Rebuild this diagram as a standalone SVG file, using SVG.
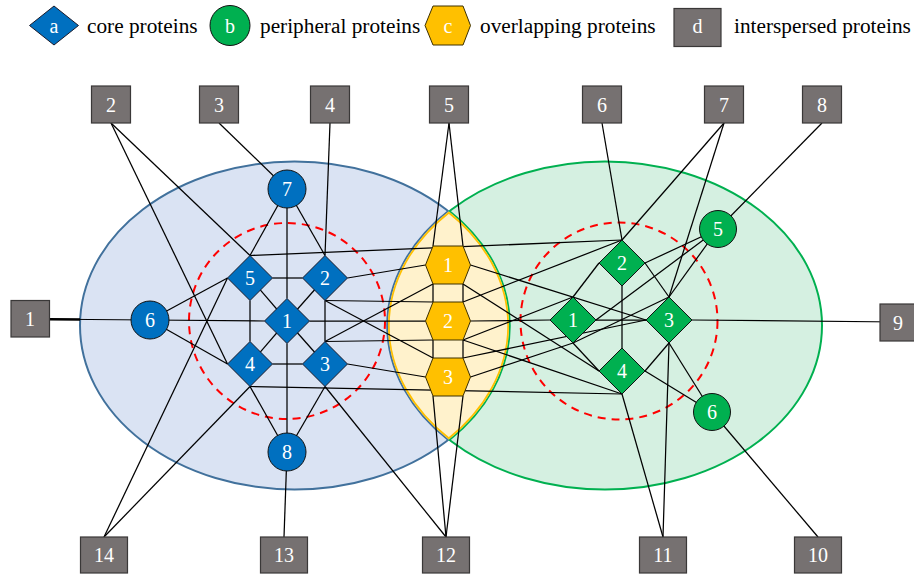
<svg xmlns="http://www.w3.org/2000/svg" width="914" height="577" viewBox="0 0 914 577">
<defs>
<style>
.lbl{font-family:"Liberation Serif","Times New Roman",serif;font-size:20px;fill:#fff;text-anchor:middle}
.leg{font-family:"Liberation Serif","Times New Roman",serif;font-size:21.3px;fill:#000}
.sq{fill:#767171;stroke:#3a3838;stroke-width:1.2}
.core{fill:#0070C0;stroke:#1a1a2a;stroke-width:1}
.peri{fill:#00B050;stroke:#111;stroke-width:1}
.ovl{fill:#FFC000;stroke:#3d3000;stroke-width:1}
.e line{stroke:#000;stroke-width:1.25}
.ring{fill:none;stroke:#FF0000;stroke-width:2;stroke-dasharray:8 6}
</style>
<clipPath id="lensclip"><path d="M448.85 211.6 A214.5 164 0 0 1 448.85 439.4 A217 164 0 0 1 448.85 211.6 Z"/></clipPath>
</defs>
<rect width="914" height="577" fill="#fff"/>

<g id="legend">
<polygon class="core" points="29.5,25.5 54,6 78.5,25.5 54,45"/>
<text class="lbl" x="54" y="32.5">a</text>
<text class="leg" x="87" y="33">core proteins</text>
<circle class="peri" cx="230" cy="25.5" r="20"/>
<text class="lbl" x="230" y="32.5">b</text>
<text class="leg" x="260" y="33">peripheral proteins</text>
<polygon class="ovl" points="425,25.5 433,6 463,6 470.5,25.5 463,45 433,45"/>
<text class="lbl" x="448" y="32.5">c</text>
<text class="leg" x="480" y="33">overlapping proteins</text>
<rect class="sq" x="674" y="8.5" width="47" height="38"/>
<text class="lbl" x="697.5" y="33">d</text>
<text class="leg" x="734" y="33">interspersed proteins</text>
</g>

<g id="regions">
<ellipse cx="294.5" cy="325.5" rx="214.5" ry="164" fill="#DAE3F3" stroke="#41719C" stroke-width="2"/>
<ellipse cx="605" cy="325.5" rx="217" ry="164" fill="#D5F0E1" stroke="#00B050" stroke-width="2"/>
<path d="M448.85 211.6 A217 164 0 0 0 448.85 439.4" fill="none" stroke="#41719C" stroke-width="3.5"/>
<path d="M448.85 211.6 A214.5 164 0 0 1 448.85 439.4" fill="none" stroke="#00B050" stroke-width="3.5"/>
<path d="M448.85 211.6 A214.5 164 0 0 1 448.85 439.4 A217 164 0 0 1 448.85 211.6 Z" fill="#FFF2CC"/>
<path d="M448.85 211.6 A214.5 164 0 0 1 448.85 439.4 A217 164 0 0 1 448.85 211.6 Z" fill="none" stroke="#FFC000" stroke-width="3.5" clip-path="url(#lensclip)"/>
<circle class="ring" cx="287" cy="321" r="98"/>
<circle class="ring" cx="619" cy="321" r="98.5"/>
</g>

<g id="connectors" class="e">
<line x1="111" y1="123" x2="250" y2="255.5"/>
<line x1="111" y1="123" x2="227.5" y2="364"/>
<line x1="219" y1="123" x2="287" y2="189"/>
<line x1="330" y1="123" x2="325" y2="255.5"/>
<line x1="449" y1="123" x2="433" y2="246"/>
<line x1="449" y1="123" x2="463" y2="246"/>
<line x1="602" y1="123" x2="622" y2="240"/>
<line x1="724" y1="123" x2="622" y2="240"/>
<line x1="724" y1="123" x2="669" y2="297"/>
<line x1="822" y1="123" x2="718" y2="229"/>
<line x1="30" y1="319" x2="150" y2="320"/>
<line x1="49" y1="319.2" x2="80" y2="319.5" style="stroke-width:2.6"/>
<line x1="899" y1="322" x2="692" y2="320"/>
<line x1="818" y1="537" x2="712" y2="412"/>
<line x1="663" y1="537" x2="622" y2="394"/>
<line x1="663" y1="537" x2="669" y2="343"/>
<line x1="446" y1="537" x2="433" y2="396"/>
<line x1="446" y1="537" x2="463" y2="396"/>
<line x1="446" y1="537" x2="325" y2="386.5"/>
<line x1="284" y1="537" x2="287" y2="452"/>
<line x1="104" y1="537" x2="227.5" y2="278"/>
<line x1="104" y1="537" x2="250" y2="386.5"/>

<line x1="150" y1="320" x2="227.5" y2="278"/>
<line x1="150" y1="320" x2="227.5" y2="364"/>
<line x1="150" y1="320" x2="264.5" y2="321"/>
<line x1="287" y1="189" x2="250" y2="255.5"/>
<line x1="287" y1="189" x2="325" y2="255.5"/>
<line x1="287" y1="189" x2="287" y2="298.5"/>
<line x1="287" y1="452" x2="250" y2="386.5"/>
<line x1="287" y1="452" x2="325" y2="386.5"/>
<line x1="287" y1="452" x2="287" y2="343.5"/>
<line x1="272.5" y1="278" x2="302.5" y2="278"/>
<line x1="250" y1="300.5" x2="250" y2="341.5"/>
<line x1="325" y1="300.5" x2="325" y2="341.5"/>
<line x1="272.5" y1="364" x2="302.5" y2="364"/>
<line x1="250" y1="278" x2="287" y2="321"/>
<line x1="325" y1="278" x2="287" y2="321"/>
<line x1="250" y1="364" x2="287" y2="321"/>
<line x1="325" y1="364" x2="287" y2="321"/>

<line x1="250" y1="255.5" x2="622" y2="240"/>
<line x1="347.5" y1="278" x2="425.5" y2="265"/>
<line x1="325" y1="300.5" x2="433" y2="302"/>
<line x1="325" y1="300.5" x2="433" y2="358"/>
<line x1="309.5" y1="321" x2="425.5" y2="321"/>
<line x1="325" y1="341.5" x2="433" y2="340"/>
<line x1="325" y1="341.5" x2="433" y2="284"/>
<line x1="347.5" y1="364" x2="425.5" y2="377"/>
<line x1="250" y1="386.5" x2="622" y2="394"/>

<line x1="433" y1="284" x2="433" y2="302"/>
<line x1="463" y1="284" x2="463" y2="302"/>
<line x1="433" y1="340" x2="433" y2="358"/>
<line x1="463" y1="340" x2="463" y2="358"/>

<line x1="470.5" y1="321" x2="550" y2="320"/>
<line x1="470.5" y1="265" x2="646" y2="320"/>
<line x1="463" y1="302" x2="622" y2="240"/>
<line x1="463" y1="284" x2="599" y2="371"/>
<line x1="463" y1="340" x2="573" y2="297"/>
<line x1="463" y1="340" x2="622" y2="394"/>
<line x1="463" y1="358" x2="646" y2="320"/>
<line x1="470.5" y1="377" x2="573" y2="343"/>

<line x1="596" y1="320" x2="646" y2="320"/>
<line x1="599" y1="263" x2="573" y2="297"/>
<line x1="645" y1="263" x2="669" y2="297"/>
<line x1="622" y1="286" x2="622" y2="348"/>
<line x1="645" y1="263" x2="718" y2="229"/>
<line x1="596" y1="320" x2="718" y2="229"/>
<line x1="573" y1="343" x2="599" y2="371"/>
<line x1="573" y1="343" x2="669" y2="297"/>
<line x1="669" y1="343" x2="645" y2="371"/>
<line x1="669" y1="297" x2="718" y2="229"/>
<line x1="669" y1="343" x2="712" y2="412"/>
<line x1="645" y1="371" x2="712" y2="412"/>
</g>

<g id="core-1"><polygon class="core" points="287,298.5 309.5,321 287,343.5 264.5,321"/><text class="lbl" x="287" y="328">1</text></g>
<g id="core-2"><polygon class="core" points="325,255.5 347.5,278 325,300.5 302.5,278"/><text class="lbl" x="325" y="285">2</text></g>
<g id="core-3"><polygon class="core" points="325,341.5 347.5,364 325,386.5 302.5,364"/><text class="lbl" x="325" y="371">3</text></g>
<g id="core-4"><polygon class="core" points="250,341.5 272.5,364 250,386.5 227.5,364"/><text class="lbl" x="250" y="371">4</text></g>
<g id="core-5"><polygon class="core" points="250,255.5 272.5,278 250,300.5 227.5,278"/><text class="lbl" x="250" y="285">5</text></g>
<g id="core-6"><circle class="core" cx="150" cy="320" r="19" style="stroke:#111"/><text class="lbl" x="150" y="327">6</text></g>
<g id="core-7"><circle class="core" cx="287" cy="189" r="19" style="stroke:#111"/><text class="lbl" x="287" y="196">7</text></g>
<g id="core-8"><circle class="core" cx="287" cy="452" r="19" style="stroke:#111"/><text class="lbl" x="287" y="459">8</text></g>

<g id="ovl-1"><polygon class="ovl" points="425.5,265 433,246 463,246 470.5,265 463,284 433,284"/><text class="lbl" x="448" y="272">1</text></g>
<g id="ovl-2"><polygon class="ovl" points="425.5,321 433,302 463,302 470.5,321 463,340 433,340"/><text class="lbl" x="448" y="328">2</text></g>
<g id="ovl-3"><polygon class="ovl" points="425.5,377 433,358 463,358 470.5,377 463,396 433,396"/><text class="lbl" x="448" y="384">3</text></g>

<g id="peri-1"><polygon class="peri" points="573,297 596,320 573,343 550,320"/><text class="lbl" x="573" y="327">1</text></g>
<g id="peri-2"><polygon class="peri" points="622,240 645,263 622,286 599,263"/><text class="lbl" x="622" y="270">2</text></g>
<g id="peri-3"><polygon class="peri" points="669,297 692,320 669,343 646,320"/><text class="lbl" x="669" y="327">3</text></g>
<g id="peri-4"><polygon class="peri" points="622,348 645,371 622,394 599,371"/><text class="lbl" x="622" y="378">4</text></g>
<g id="peri-5"><circle class="peri" cx="718" cy="229" r="18.5"/><text class="lbl" x="718" y="236">5</text></g>
<g id="peri-6"><circle class="peri" cx="712" cy="412" r="18.5"/><text class="lbl" x="712" y="419">6</text></g>

<g id="sq-1"><rect class="sq" x="11" y="300.5" width="38.5" height="36.5"/><text class="lbl" x="30" y="326">1</text></g>
<g id="sq-2"><rect class="sq" x="91.5" y="86" width="39" height="37"/><text class="lbl" x="111" y="111.5">2</text></g>
<g id="sq-3"><rect class="sq" x="199.5" y="86" width="39" height="37"/><text class="lbl" x="219" y="111.5">3</text></g>
<g id="sq-4"><rect class="sq" x="310.5" y="86" width="39" height="37"/><text class="lbl" x="330" y="111.5">4</text></g>
<g id="sq-5"><rect class="sq" x="429.5" y="86" width="39" height="37"/><text class="lbl" x="449" y="111.5">5</text></g>
<g id="sq-6"><rect class="sq" x="582.5" y="86" width="39" height="37"/><text class="lbl" x="602" y="111.5">6</text></g>
<g id="sq-7"><rect class="sq" x="704.5" y="86" width="39" height="37"/><text class="lbl" x="724" y="111.5">7</text></g>
<g id="sq-8"><rect class="sq" x="802.5" y="86" width="39" height="37"/><text class="lbl" x="822" y="111.5">8</text></g>
<g id="sq-9"><rect class="sq" x="880" y="304" width="39" height="37"/><text class="lbl" x="898" y="329.5">9</text></g>
<g id="sq-10"><rect class="sq" x="794.5" y="537" width="47" height="36"/><text class="lbl" x="818" y="562">10</text></g>
<g id="sq-11"><rect class="sq" x="639.5" y="537" width="47" height="36"/><text class="lbl" x="663" y="562">11</text></g>
<g id="sq-12"><rect class="sq" x="422.5" y="537" width="47" height="36"/><text class="lbl" x="446" y="562">12</text></g>
<g id="sq-13"><rect class="sq" x="260.5" y="537" width="47" height="36"/><text class="lbl" x="284" y="562">13</text></g>
<g id="sq-14"><rect class="sq" x="80.5" y="537" width="47" height="36"/><text class="lbl" x="104" y="562">14</text></g>
</svg>
